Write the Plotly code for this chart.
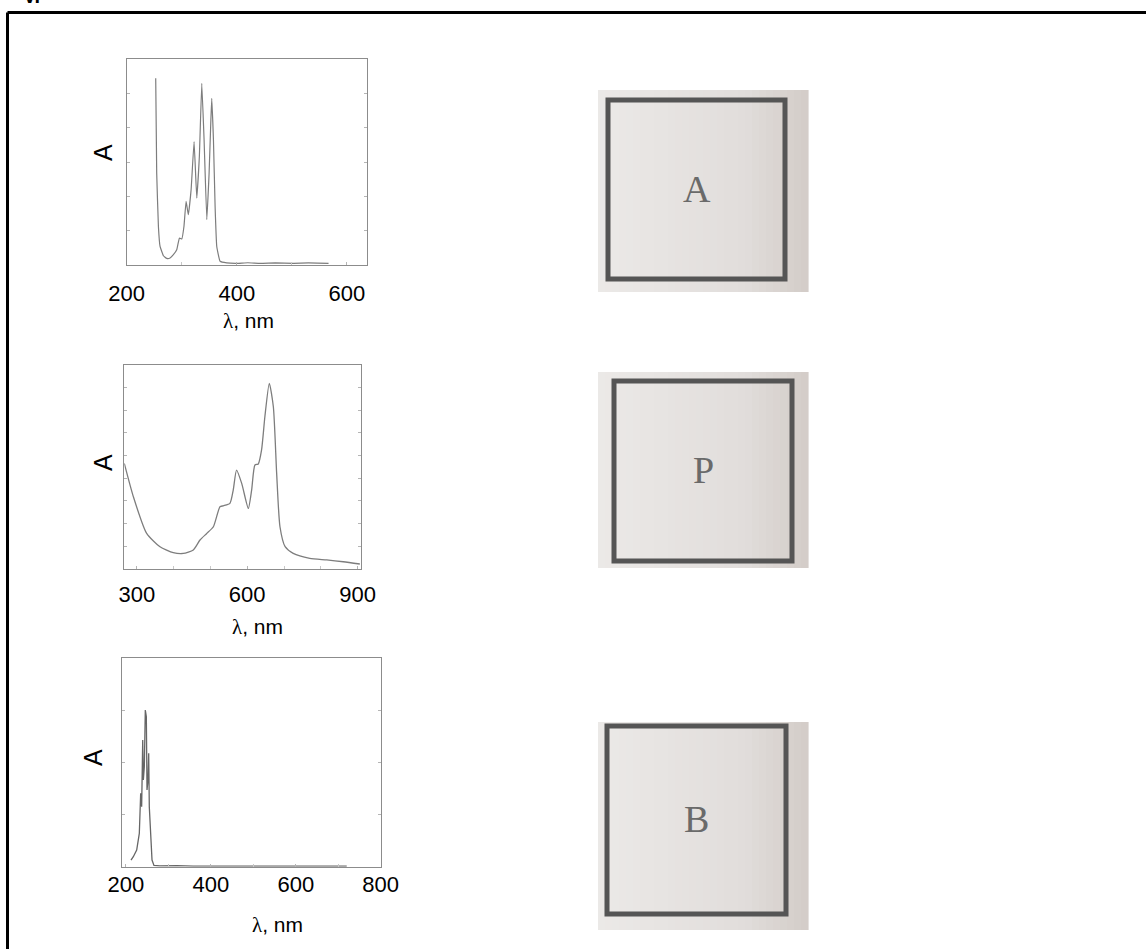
import plotly.graph_objects as go

# ---------------- data ----------------
# Panel 1 (compound A)
wl_a = [252.7, 254.5, 257.6, 260.6, 266.7, 272.7, 278.8, 284.8, 290.9, 295.8, 300.0,
        304.0, 307.9, 312.0, 317.0, 322.4, 327.3, 332.0, 336.4, 340.6, 345.5, 349.7,
        352.7, 354.5, 357.6, 360.6, 363.6, 369.7, 381.8, 400, 420, 442.4, 470, 503,
        530, 566.7]
abs_a = [0.906, 0.446, 0.187, 0.090, 0.045, 0.032, 0.034, 0.050, 0.074, 0.131, 0.126,
         0.187, 0.309, 0.244, 0.365, 0.599, 0.325, 0.527, 0.882, 0.607, 0.220, 0.446,
         0.688, 0.809, 0.607, 0.284, 0.090, 0.018, 0.010, 0.008, 0.011, 0.008, 0.010,
         0.008, 0.010, 0.008]

# Panel 2 (compound P)
wl_p = [266, 290.5, 326.8, 363, 399, 426, 453.5, 471.7, 490, 508, 526, 535, 553, 562,
        571, 585, 603, 612, 621, 630, 639, 648, 660, 671, 680, 689, 703, 725, 770, 816,
        861, 906]
abs_p = [0.517, 0.354, 0.173, 0.108, 0.079, 0.075, 0.092, 0.141, 0.173, 0.206, 0.304,
         0.309, 0.321, 0.386, 0.484, 0.419, 0.296, 0.386, 0.509, 0.514, 0.583, 0.746,
         0.910, 0.795, 0.468, 0.206, 0.108, 0.075, 0.051, 0.043, 0.034, 0.023]

# Panel 3 (compound B)
wl_b = [211.9, 217.4, 225.3, 231.5, 234.7, 237.0, 239.5, 241.0, 243.3, 245.6, 248.0,
        249.6, 252.0, 253.6, 255.0, 258.3, 261.4, 266.0, 280, 320, 358.6, 450, 550,
        650, 720]
abs_b = [0.032, 0.048, 0.08, 0.16, 0.352, 0.288, 0.608, 0.416, 0.48, 0.752, 0.72,
         0.368, 0.416, 0.544, 0.288, 0.128, 0.032, 0.006, 0.004, 0.005, 0.003, 0.003,
         0.003, 0.003, 0.003]

ticks_a = [200, 400, 600]
ticks_p = [300, 600, 900]
ticks_b = [200, 400, 600, 800]
x_title = "<span style='font-family:Liberation Serif'>λ</span>, nm"
y_title = "A"
box_letters = ["A", "P", "B"]

# ---------------- layout helpers ----------------
W, H = 1146, 949
def fx(px):
    return px / W
def fy(py):
    return 1 - py / H

LINE = "#7d7d7d"
AXC = "#8c8c8c"
TICKFONT = dict(family="Liberation Sans, Arial", size=22, color="black")

fig = go.Figure()
fig.add_trace(go.Scatter(x=wl_a, y=abs_a, mode="lines",
                         line=dict(color=LINE, width=1.2, shape="spline", smoothing=0.3),
                         xaxis="x", yaxis="y", showlegend=False))
fig.add_trace(go.Scatter(x=wl_p, y=abs_p, mode="lines",
                         line=dict(color=LINE, width=1.3, shape="spline", smoothing=0.6),
                         xaxis="x2", yaxis="y2", showlegend=False))
fig.add_trace(go.Scatter(x=wl_b, y=abs_b, mode="lines", line=dict(color="#666666", width=1.3),
                         xaxis="x3", yaxis="y3", showlegend=False))

def xax(dom, rng, tv, standoff, anchor):
    return dict(domain=[fx(dom[0]), fx(dom[1])], range=rng, anchor=anchor,
                tickmode="array", tickvals=tv, ticktext=[str(v) for v in tv],
                ticks="inside", ticklen=3, tickcolor="#b5b5b5",
                minor=dict(ticks="inside", dtick=100, ticklen=3, tickcolor="#c8c8c8"),
                tickfont=TICKFONT, ticklabelstandoff=standoff, automargin=False,
                showline=True, linecolor=AXC, linewidth=1, mirror=True,
                showgrid=False, zeroline=False, fixedrange=True)

def yax(dom, dtick, anchor):
    return dict(domain=[fy(dom[1]), fy(dom[0])], range=[0, 1], anchor=anchor,
                tick0=0, dtick=dtick, ticks="inside", ticklen=3, tickcolor="#b5b5b5",
                showticklabels=False, showline=True, linecolor=AXC, linewidth=1,
                mirror="ticks", showgrid=False, zeroline=False, fixedrange=True,
                automargin=False)

layout = dict(
    width=W, height=H, margin=dict(l=0, r=0, t=0, b=0, pad=0, autoexpand=False),
    paper_bgcolor="white", plot_bgcolor="white", showlegend=False,
    xaxis=xax((126.7, 366.7), [200, 636], ticks_a, 9, "y"),
    yaxis=yax((59, 265), 1 / 6, "x"),
    xaxis2=xax((124.3, 361.3), [266, 910], ticks_p, 6, "y2"),
    yaxis2=yax((365, 568.7), 1 / 9, "x2"),
    xaxis3=xax((121.7, 380.7), [190, 800], ticks_b, -2, "y3"),
    yaxis3=yax((658.3, 866.7), 0.25, "x3"),
)
fig.update_layout(**layout)

ann = []
# axis titles
for (cx, cy) in [(248, 321), (257, 627), (277, 925)]:
    ann.append(dict(x=fx(cx), y=fy(cy), xref="paper", yref="paper", text=x_title,
                    showarrow=False, xanchor="center", yanchor="middle",
                    font=dict(family="Liberation Sans, Arial", size=21, color="black")))
for (cx, cy) in [(103, 153), (103, 463), (93, 758)]:
    ann.append(dict(x=fx(cx), y=fy(cy), xref="paper", yref="paper", text=y_title,
                    showarrow=False, textangle=-90, xanchor="center", yanchor="middle",
                    font=dict(family="Liberation Sans, Arial", size=25, color="black")))

shapes = []
# outer frame (top and left edges visible)
shapes.append(dict(type="line", xref="paper", yref="paper", x0=fx(7.5), x1=1.01,
                   y0=fy(12.5), y1=fy(12.5), line=dict(color="black", width=3)))
shapes.append(dict(type="line", xref="paper", yref="paper", x0=fx(7.5), x1=fx(7.5),
                   y0=fy(12.5), y1=-0.01, line=dict(color="black", width=3)))

# smooth light-grey paper gradient for the square pictures
def mix(c1, c2, t):
    a = [int(c1[i:i + 2], 16) for i in (1, 3, 5)]
    b = [int(c2[i:i + 2], 16) for i in (1, 3, 5)]
    return "#" + "".join("%02x" % round(a[k] + (b[k] - a[k]) * t) for k in range(3))

NSTRIP = 30
grad = []
for i in range(NSTRIP):
    t = i / (NSTRIP - 1)
    if t < 0.7:
        grad.append(mix("#ebe9e7", "#e1dddb", t / 0.7))
    else:
        grad.append(mix("#e1dddb", "#d4cdc9", (t - 0.7) / 0.3))

boxes = [((598, 90, 808, 292), (608, 100, 785, 279)),
         ((598, 372, 808, 568), (614, 381, 792, 561)),
         ((598, 722, 808, 930), (607, 726, 786, 914))]
for (bg, br), letter in zip(boxes, box_letters):
    wstep = (bg[2] - bg[0]) / NSTRIP
    for i, c in enumerate(grad):
        shapes.append(dict(type="rect", xref="paper", yref="paper", layer="below",
                           x0=fx(bg[0] + i * wstep), x1=fx(bg[0] + (i + 1) * wstep + 0.6),
                           y0=fy(bg[3]), y1=fy(bg[1]), line=dict(width=0), fillcolor=c))
    shapes.append(dict(type="rect", xref="paper", yref="paper",
                       x0=fx(br[0]), x1=fx(br[2]), y0=fy(br[3]), y1=fy(br[1]),
                       line=dict(color="#555555", width=5), fillcolor="rgba(0,0,0,0)"))
    ann.append(dict(x=fx((br[0] + br[2]) / 2), y=fy((br[1] + br[3]) / 2 - 1),
                    xref="paper", yref="paper", text=letter, showarrow=False,
                    xanchor="center", yanchor="middle",
                    font=dict(family="Liberation Serif, Times New Roman", size=38,
                              color="#6a6a6a")))

# cut-off heading at the very top-left (only its lower edge is visible)
ann.append(dict(x=fx(21), y=fy(9), xref="paper", yref="paper", text="<b>V.</b>",
                showarrow=False, xanchor="left", yanchor="bottom",
                font=dict(family="Liberation Sans, Arial", size=20, color="black")))

fig.update_layout(annotations=ann, shapes=shapes)
fig.write_html("out.html", config={"displayModeBar": False},
               post_script="document.body.style.margin='0px';document.body.style.overflow='hidden';")
